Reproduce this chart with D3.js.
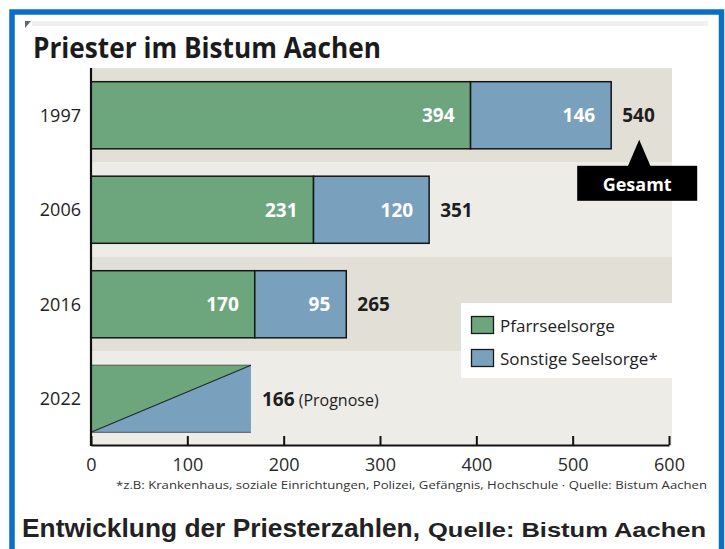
<!DOCTYPE html>
<html>
<head>
<meta charset="utf-8">
<script src="https://cdn.jsdelivr.net/npm/d3@7"></script>
<style>
  body { margin: 0; background: #fff; }
  svg { display: block; }
</style>
</head>
<body>
<div id="chart"></div>
<script>
// data
const years = ["1997", "2006", "2016", "2022"];
const pfarrseelsorge = [394, 231, 170, null];
const sonstigeSeelsorge = [146, 120, 95, null];
const gesamt = [540, 351, 265, 166];
const xTicks = [0, 100, 200, 300, 400, 500, 600];
const legendLabels = ["Pfarrseelsorge", "Sonstige Seelsorge*"];

const W = 725, H = 549;
const green = "#6da67d", blue = "#79a0bd";
const stripeDark = "#e2e0d6", stripeLight = "#eeece6";
const font = "'Open Sans', sans-serif";

const svg = d3.select("#chart")
  .append("svg")
  .attr("width", W)
  .attr("height", H);

// blue frame (open at bottom)
svg.append("rect")
  .attr("x", 12).attr("y", 12)
  .attr("width", 709.5).attr("height", 600)
  .attr("fill", "none")
  .attr("stroke", "#0a70c4")
  .attr("stroke-width", 5.5);

// little corner mark + faint blurred line
svg.append("path")
  .attr("d", "M25,21 L31,21 L25,28 Z")
  .attr("fill", "#666");
svg.append("rect")
  .attr("x", 32).attr("y", 21).attr("width", 676).attr("height", 5)
  .attr("fill", "#f0f0f0");

svg.append("text")
  .attr("x", 33).attr("y", 58)
  .attr("textLength", 348).attr("lengthAdjust", "spacingAndGlyphs")
  .style("font-family", font).style("font-weight", 700)
  .style("font-size", "28px").style("fill", "#1b1b1b")
  .text("Priester im Bistum Aachen");

const x = d3.scaleLinear().domain([0, 600]).range([91, 669]);
const y = d3.scaleBand().domain(years).range([68, 446])
  .paddingInner(0.29).paddingOuter(0.145);
const outer = y.step() * 0.145;

// stripes
svg.append("g").selectAll("rect")
  .data(years)
  .join("rect")
  .attr("x", x(0))
  .attr("y", d => y(d) - outer)
  .attr("width", x(600) + 3 - x(0))
  .attr("height", y.step())
  .attr("fill", (d, i) => i % 2 === 0 ? stripeDark : stripeLight);

// legend box
const legend = svg.append("g");
legend.append("rect")
  .attr("x", 461).attr("y", 303).attr("width", x(600) + 3 - 461).attr("height", 75)
  .attr("fill", "#fff");
legendLabels.forEach((lab, i) => {
  legend.append("rect")
    .attr("x", 471.5).attr("y", 316.5 + i * 33)
    .attr("width", 22).attr("height", 17)
    .attr("fill", i === 0 ? green : blue)
    .attr("stroke", "#1a1a1a").attr("stroke-width", 1.3);
  legend.append("text")
    .attr("x", 500).attr("y", 332 + i * 33)
    .style("font-family", font).style("font-size", "17px").style("fill", "#222")
    .text(lab);
});

// stacked bars
const rows = years.map((yr, i) => ({ yr, p: pfarrseelsorge[i], s: sonstigeSeelsorge[i], t: gesamt[i] }));
const stacked = rows.filter(d => d.p !== null);
const bars = svg.append("g");

bars.selectAll(".pf")
  .data(stacked)
  .join("rect")
  .attr("x", x(0))
  .attr("y", d => y(d.yr))
  .attr("width", d => x(d.p) - x(0))
  .attr("height", y.bandwidth())
  .attr("fill", green)
  .attr("stroke", "#151515").attr("stroke-width", 1.5);

bars.selectAll(".so")
  .data(stacked)
  .join("rect")
  .attr("x", d => x(d.p))
  .attr("y", d => y(d.yr))
  .attr("width", d => x(d.p + d.s) - x(d.p))
  .attr("height", y.bandwidth())
  .attr("fill", blue)
  .attr("stroke", "#151515").attr("stroke-width", 1.5);

const inLabels = [];
stacked.forEach(d => {
  inLabels.push({ yr: d.yr, v: d.p, end: d.p });
  inLabels.push({ yr: d.yr, v: d.s, end: d.p + d.s });
});
bars.selectAll(".inl")
  .data(inLabels)
  .join("text")
  .attr("x", d => x(d.end) - 16)
  .attr("y", d => y(d.yr) + y.bandwidth() / 2)
  .attr("dy", "0.36em")
  .attr("text-anchor", "end")
  .style("font-family", font).style("font-weight", 700)
  .style("font-size", "19px").style("fill", "#fff")
  .text(d => d.v);

// prognosis bar, split diagonally
const prog = rows.find(d => d.p === null);
const px0 = x(0), px1 = x(prog.t), pyT = y(prog.yr), pyB = y(prog.yr) + y.bandwidth();
bars.append("path")
  .attr("d", `M${px0},${pyT}L${px1},${pyT}L${px0},${pyB}Z`)
  .attr("fill", green);
bars.append("path")
  .attr("d", `M${px1},${pyT}L${px1},${pyB}L${px0},${pyB}Z`)
  .attr("fill", blue);
bars.append("path")
  .attr("d", `M${px0},${pyT}H${px1}M${px0},${pyB}H${px1}`)
  .attr("stroke", "#555").attr("stroke-width", 1);
bars.append("line")
  .attr("x1", px0).attr("y1", pyB).attr("x2", px1).attr("y2", pyT)
  .attr("stroke", "#1c2a2a").attr("stroke-width", 1.2);

// totals
const totLabels = bars.selectAll(".tot")
  .data(rows)
  .join("text")
  .attr("x", d => x(d.t) + 11)
  .attr("y", d => y(d.yr) + y.bandwidth() / 2)
  .attr("dy", "0.36em")
  .style("font-family", font).style("font-weight", 700)
  .style("font-size", "19px").style("fill", "#1e1e1e")
  .text(d => d.t);
totLabels.filter(d => d.p === null)
  .append("tspan")
  .style("font-weight", 400).style("font-size", "16px")
  .text(" (Prognose)");

// "Gesamt" callout under the first total
const cx = x(gesamt[0]) + 28;
const cy = y(years[0]) + y.bandwidth();
svg.append("path")
  .attr("d", `M${cx},${cy - 9}L${cx + 12},${cy + 19}L${cx - 12},${cy + 19}Z`)
  .attr("fill", "#000");
svg.append("rect")
  .attr("x", cx - 62).attr("y", cy + 17).attr("width", 120).attr("height", 35)
  .attr("fill", "#000");
svg.append("text")
  .attr("x", cx - 2).attr("y", cy + 42)
  .attr("text-anchor", "middle")
  .style("font-family", font).style("font-weight", 700)
  .style("font-size", "18px").style("fill", "#fff")
  .text("Gesamt");

// axes
const xAxis = svg.append("g")
  .attr("transform", `translate(0,${y.range()[1] - 1})`)
  .call(d3.axisBottom(x).tickValues(xTicks).tickSize(-9).tickSizeOuter(0).tickPadding(13));
xAxis.select(".domain").attr("stroke", "#111").attr("stroke-width", 2.2);
xAxis.selectAll(".tick line").attr("stroke", "#111").attr("stroke-width", 2);
xAxis.selectAll(".tick text")
  .style("font-family", font).style("font-size", "18px").style("fill", "#2a2a2a");

svg.append("line")
  .attr("x1", x(0)).attr("x2", x(0))
  .attr("y1", y.range()[0]).attr("y2", y.range()[1])
  .attr("stroke", "#111").attr("stroke-width", 2.2);

svg.append("g").selectAll("text")
  .data(years)
  .join("text")
  .attr("x", 81)
  .attr("y", d => y(d) + y.bandwidth() / 2)
  .attr("dy", "0.36em")
  .attr("text-anchor", "end")
  .style("font-family", font).style("font-size", "18px").style("fill", "#222")
  .text(d => d);

// footnote and caption
svg.append("text")
  .attr("x", 116).attr("y", 489)
  .attr("textLength", 591).attr("lengthAdjust", "spacingAndGlyphs")
  .style("font-family", font).style("font-size", "11.5px").style("fill", "#333")
  .text("*z.B: Krankenhaus, soziale Einrichtungen, Polizei, Gefängnis, Hochschule · Quelle: Bistum Aachen");

svg.append("text")
  .attr("x", 22).attr("y", 537)
  .attr("textLength", 398).attr("lengthAdjust", "spacingAndGlyphs")
  .style("font-family", "'Liberation Sans', Arial, sans-serif").style("font-weight", 700)
  .style("font-size", "26px").style("fill", "#222")
  .text("Entwicklung der Priesterzahlen,");
svg.append("text")
  .attr("x", 428).attr("y", 537)
  .attr("textLength", 278).attr("lengthAdjust", "spacingAndGlyphs")
  .style("font-family", "'Liberation Sans', Arial, sans-serif").style("font-weight", 700)
  .style("font-size", "21px").style("fill", "#222")
  .text("Quelle: Bistum Aachen");
</script>
</body>
</html>
